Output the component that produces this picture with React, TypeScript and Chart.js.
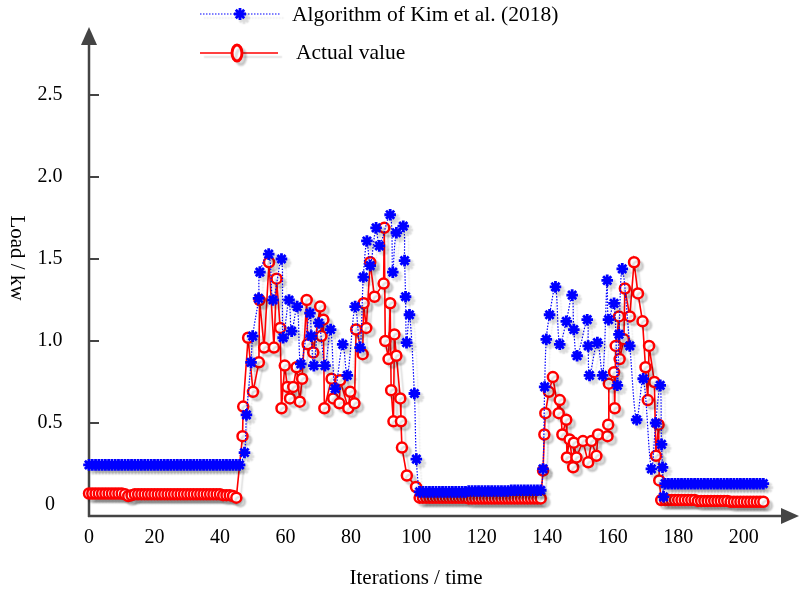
import React, { useEffect, useRef } from 'react';
import { Chart, registerables } from 'chart.js';

Chart.register(...registerables);

const FONT = '"Liberation Serif", "Times New Roman", serif';

const seriesNames = ['Algorithm of Kim et al. (2018)', 'Actual value'];
const xTitle = 'Iterations / time';
const yTitle = 'Load / kw';
const xTickValues = [0, 20, 40, 60, 80, 100, 120, 140, 160, 180, 200];
const yTickValues = [0, 0.5, 1.0, 1.5, 2.0, 2.5];
const yTickLabels = ['0', '0.5', '1.0', '1.5', '2.0', '2.5'];

// ---- Algorithm of Kim et al. (2018) ----
// iterations 0..46
const kimFlatA = [
  0.245, 0.245, 0.245, 0.245, 0.245, 0.245, 0.245, 0.245, 0.245, 0.245,
  0.245, 0.245, 0.245, 0.245, 0.245, 0.245, 0.245, 0.245, 0.245, 0.245,
  0.245, 0.245, 0.245, 0.245, 0.245, 0.245, 0.245, 0.245, 0.245, 0.245,
  0.245, 0.245, 0.245, 0.245, 0.245, 0.245, 0.245, 0.245, 0.245, 0.245,
  0.245, 0.245, 0.245, 0.245, 0.245, 0.245, 0.245,
];
const kimBurstAX = [
  47.5, 48.1, 49.5, 50.0, 51.8, 52.2, 54.9, 56.2, 58.8, 59.3,
  61.1, 61.9, 63.6, 64.7, 67.5, 67.9, 68.7, 70.2, 72.1, 73.8,
  75.2, 77.5, 78.9, 81.3, 82.8, 83.8, 84.9, 85.9, 87.7, 88.7,
  92.0, 92.8, 93.9, 96.0, 96.4, 96.7, 97.0, 97.9, 99.4, 100.0,
];
const kimBurstAY = [
  0.32, 0.55, 0.87, 1.03, 1.26, 1.42, 1.53, 1.25, 1.5, 1.02,
  1.25, 1.06, 1.21, 0.86, 1.17, 1.03, 0.85, 1.11, 0.85, 1.07,
  0.71, 0.98, 0.79, 1.21, 0.96, 1.39, 1.61, 1.46, 1.69, 1.58,
  1.77, 1.42, 1.66, 1.7, 1.49, 1.27, 0.99, 1.16, 0.68, 0.28,
];
// iterations 101..138
const kimFlatB = [
  0.08, 0.08, 0.08, 0.08, 0.08, 0.08, 0.08, 0.08, 0.08, 0.08,
  0.08, 0.08, 0.08, 0.08, 0.08, 0.085, 0.085, 0.085, 0.085, 0.085,
  0.085, 0.085, 0.085, 0.085, 0.085, 0.085, 0.085, 0.085, 0.09, 0.09,
  0.09, 0.09, 0.09, 0.09, 0.09, 0.09, 0.09, 0.09,
];
const kimBurstBX = [
  138.7, 139.2, 139.7, 140.7, 142.5, 143.8, 145.8, 147.6, 148.1, 149.1,
  152.2, 152.5, 152.9, 155.3, 156.9, 158.3, 158.7, 160.4, 161.4, 161.9,
  162.9, 165.2, 167.3, 169.3, 171.8, 173.1, 174.5, 174.9, 175.2, 175.5,
];
const kimBurstBY = [
  0.22, 0.72, 1.01, 1.16, 1.33, 0.98, 1.12, 1.28, 1.07, 0.91,
  1.13, 0.97, 0.79, 0.99, 0.79, 1.37, 1.13, 1.23, 0.73, 1.04,
  1.44, 0.97, 0.52, 0.77, 0.22, 0.5, 0.73, 0.37, 0.23, 0.05,
];
// iterations 176..206
const kimFlatC = [
  0.13, 0.13, 0.13, 0.13, 0.13, 0.13, 0.13, 0.13, 0.13, 0.13,
  0.13, 0.13, 0.13, 0.13, 0.13, 0.13, 0.13, 0.13, 0.13, 0.13,
  0.13, 0.13, 0.13, 0.13, 0.13, 0.13, 0.13, 0.13, 0.13, 0.13, 0.13,
];

// ---- Actual value ----
// iterations 0..45
const actFlatA = [
  0.07, 0.07, 0.07, 0.07, 0.07, 0.07, 0.07, 0.07, 0.07, 0.07,
  0.07, 0.065, 0.055, 0.06, 0.065, 0.065, 0.065, 0.065, 0.065, 0.065,
  0.065, 0.065, 0.065, 0.065, 0.065, 0.065, 0.065, 0.065, 0.065, 0.065,
  0.065, 0.065, 0.065, 0.065, 0.065, 0.065, 0.065, 0.065, 0.065, 0.065,
  0.065, 0.06, 0.06, 0.06, 0.055, 0.045,
];
const actBurstAX = [
  46.9, 47.1, 48.6, 50.1, 51.9, 52.1, 53.5, 55.0, 56.5, 57.3,
  58.4, 58.8, 59.8, 60.6, 61.4, 62.4, 63.4, 64.4, 65.1, 66.5,
  66.8, 68.5, 70.6, 71.0, 71.6, 71.9, 74.1, 74.6, 76.5, 76.7,
  79.2, 79.8, 81.1, 81.6, 83.6, 83.9, 84.7, 85.9, 87.2, 90.0,
  90.2, 90.5, 91.5, 92.0, 92.3, 93.0, 93.3, 93.9, 95.1, 95.3,
  95.6, 97.1, 99.9,
];
const actBurstAY = [
  0.42, 0.6, 1.02, 0.69, 0.87, 1.25, 0.96, 1.48, 0.96, 1.38,
  1.08, 0.59, 0.85, 0.72, 0.65, 0.72, 0.84, 0.63, 0.77, 1.25,
  0.98, 0.93, 1.21, 1.03, 1.13, 0.59, 0.77, 0.65, 0.62, 0.76,
  0.59, 0.69, 0.62, 1.07, 0.92, 1.23, 1.08, 1.48, 1.27, 1.35,
  1.69, 1.0, 0.89, 1.23, 0.7, 0.51, 1.04, 0.91, 0.65, 0.51,
  0.35, 0.18, 0.11,
];
// iterations 101..138
const actFlatB = [
  0.045, 0.045, 0.045, 0.045, 0.045, 0.045, 0.045, 0.045, 0.045, 0.045,
  0.045, 0.045, 0.045, 0.045, 0.045, 0.04, 0.04, 0.04, 0.04, 0.04,
  0.04, 0.04, 0.04, 0.04, 0.04, 0.04, 0.04, 0.04, 0.04, 0.04,
  0.04, 0.04, 0.04, 0.04, 0.04, 0.04, 0.04, 0.04,
];
const actBurstBX = [
  138.7, 139.1, 139.4, 140.5, 141.7, 143.5, 143.8, 144.6, 145.8, 146.0,
  146.8, 147.9, 148.1, 148.9, 150.9, 152.5, 153.5, 155.0, 155.5, 158.4,
  158.6, 158.8, 160.4, 160.6, 160.9, 161.9, 162.1, 163.4, 163.7, 165.2,
  166.5, 167.7, 169.1, 170.0, 170.7, 171.1, 172.7, 173.2, 174.0, 174.2,
  174.8,
];
const actBurstBY = [
  0.21, 0.43, 0.56, 0.69, 0.78, 0.56, 0.64, 0.43, 0.52, 0.29,
  0.4, 0.23, 0.38, 0.29, 0.39, 0.26, 0.39, 0.3, 0.43, 0.42,
  0.49, 0.74, 0.81, 0.59, 0.97, 1.15, 0.89, 1.01, 1.32, 1.15,
  1.48, 1.29, 1.12, 0.84, 0.64, 0.97, 0.75, 0.3, 0.49, 0.15,
  0.03,
];
// iterations 176..206
const actFlatC = [
  0.03, 0.03, 0.03, 0.03, 0.03, 0.03, 0.03, 0.03, 0.03, 0.03,
  0.025, 0.025, 0.025, 0.025, 0.025, 0.025, 0.025, 0.025, 0.025, 0.025,
  0.02, 0.02, 0.02, 0.02, 0.02, 0.02, 0.02, 0.02, 0.02, 0.02, 0.02,
];

const flat = (start: number, vals: number[]) => vals.map((v, k) => ({ x: start + k, y: v }));
const pairs = (xs: number[], ys: number[]) => xs.map((x, k) => ({ x, y: ys[k] }));

const kimPoints = [
  ...flat(0, kimFlatA),
  ...pairs(kimBurstAX, kimBurstAY),
  ...flat(101, kimFlatB),
  ...pairs(kimBurstBX, kimBurstBY),
  ...flat(176, kimFlatC),
];
const actPoints = [
  ...flat(0, actFlatA),
  ...pairs(actBurstAX, actBurstAY),
  ...flat(101, actFlatB),
  ...pairs(actBurstBX, actBurstBY),
  ...flat(176, actFlatC),
];

const BLUE = '#0000ff';
const RED = '#ff0000';
const AXIS = '#444444';

function setShadow(ctx: CanvasRenderingContext2D) {
  ctx.shadowColor = 'rgba(0,0,0,0.14)';
  ctx.shadowOffsetX = 4;
  ctx.shadowOffsetY = 4;
  ctx.shadowBlur = 1.5;
}

function drawStar(ctx: CanvasRenderingContext2D, x: number, y: number, r: number) {
  ctx.beginPath();
  for (let a = 0; a < 4; a++) {
    const ang = (a * Math.PI) / 4;
    ctx.moveTo(x - r * Math.cos(ang), y - r * Math.sin(ang));
    ctx.lineTo(x + r * Math.cos(ang), y + r * Math.sin(ang));
  }
  ctx.stroke();
}

const decorPlugin = {
  id: 'decor',
  beforeDatasetsDraw(chart: any) {
    const ctx = chart.ctx as CanvasRenderingContext2D;
    const { left, right, top, bottom } = chart.chartArea;
    const ys = chart.scales.y;
    ctx.save();
    ctx.strokeStyle = AXIS;
    ctx.fillStyle = AXIS;
    ctx.lineWidth = 2.5;
    ctx.beginPath();
    ctx.moveTo(left, bottom + 1);
    ctx.lineTo(left, top);
    ctx.moveTo(left - 1, bottom);
    ctx.lineTo(right, bottom);
    ctx.stroke();
    // arrows
    ctx.beginPath();
    ctx.moveTo(left, top - 17);
    ctx.lineTo(left - 8, top + 1);
    ctx.lineTo(left + 8, top + 1);
    ctx.closePath();
    ctx.fill();
    ctx.beginPath();
    ctx.moveTo(right + 17, bottom);
    ctx.lineTo(right - 1, bottom - 8);
    ctx.lineTo(right - 1, bottom + 8);
    ctx.closePath();
    ctx.fill();
    // y tick marks (inside)
    ctx.lineWidth = 2;
    yTickValues.forEach((v) => {
      if (v === 0) return;
      const py = ys.getPixelForValue(v);
      ctx.beginPath();
      ctx.moveTo(left, py);
      ctx.lineTo(left + 10, py);
      ctx.stroke();
    });
    ctx.restore();
  },
  beforeDatasetDraw(chart: any) {
    const ctx = chart.ctx as CanvasRenderingContext2D;
    ctx.save();
    setShadow(ctx);
  },
  afterDatasetDraw(chart: any) {
    chart.ctx.restore();
  },
  afterDraw(chart: any) {
    const ctx = chart.ctx as CanvasRenderingContext2D;
    const xs = chart.scales.x;
    const ys = chart.scales.y;
    ctx.save();
    ctx.fillStyle = '#000';
    ctx.font = `20px ${FONT}`;
    ctx.textAlign = 'center';
    ctx.textBaseline = 'middle';
    yTickValues.forEach((v, k) => {
      ctx.fillText(yTickLabels[k], 50, ys.getPixelForValue(v));
    });
    xTickValues.forEach((v) => {
      ctx.fillText(String(v), xs.getPixelForValue(v), 538);
    });
    ctx.font = `21px ${FONT}`;
    ctx.fillText(xTitle, 416, 578);
    ctx.save();
    ctx.translate(17, 258);
    ctx.rotate(Math.PI / 2);
    ctx.fillText(yTitle, 0, 0);
    ctx.restore();

    // legend
    ctx.font = `21.5px ${FONT}`;
    ctx.textAlign = 'left';
    ctx.fillText(seriesNames[0], 292, 15);
    ctx.fillText(seriesNames[1], 296, 53);

    ctx.save();
    setShadow(ctx);
    ctx.strokeStyle = BLUE;
    ctx.lineWidth = 1.2;
    ctx.setLineDash([1.5, 1.5]);
    ctx.beginPath();
    ctx.moveTo(200, 14);
    ctx.lineTo(280, 14);
    ctx.stroke();
    ctx.setLineDash([]);
    ctx.lineWidth = 2.8;
    drawStar(ctx, 240, 14, 6);

    ctx.strokeStyle = RED;
    ctx.lineWidth = 1.5;
    ctx.beginPath();
    ctx.moveTo(200, 53);
    ctx.lineTo(278, 53);
    ctx.stroke();
    ctx.lineWidth = 3;
    ctx.fillStyle = '#fff';
    ctx.beginPath();
    ctx.ellipse(237, 53, 5, 8, 0, 0, Math.PI * 2);
    ctx.fill();
    ctx.stroke();
    ctx.restore();

    ctx.restore();
  },
};

export default function App() {
  const ref = useRef<HTMLCanvasElement | null>(null);
  useEffect(() => {
    if (!ref.current) return;
    const chart = new Chart(ref.current, {
      type: 'line',
      data: {
        datasets: [
          {
            label: seriesNames[0],
            data: kimPoints,
            borderColor: BLUE,
            borderWidth: 1.2,
            borderDash: [1.5, 1.5],
            tension: 0.35,
            pointStyle: 'star',
            pointRadius: 5.8,
            pointBorderWidth: 2.8,
            pointBorderColor: BLUE,
            pointBackgroundColor: BLUE,
            clip: false,
          },
          {
            label: seriesNames[1],
            data: actPoints,
            borderColor: RED,
            borderWidth: 1.6,
            tension: 0,
            pointStyle: 'circle',
            pointRadius: 5,
            pointBorderWidth: 2.5,
            pointBorderColor: RED,
            pointBackgroundColor: '#ffffff',
            clip: false,
          },
        ],
      },
      options: {
        responsive: false,
        animation: false,
        events: [],
        layout: { padding: { left: 89, right: 18, top: 44, bottom: 77 } },
        scales: {
          x: { type: 'linear', min: 0, max: 211.7, display: false },
          y: { type: 'linear', min: -0.067, max: 2.811, display: false },
        },
        plugins: {
          legend: { display: false },
          tooltip: { enabled: false },
        },
      },
      plugins: [decorPlugin],
    } as any);
    return () => chart.destroy();
  }, []);
  return (
    <div style={{ position: 'fixed', left: 0, top: 0, width: 800, height: 593, background: '#fff' }}>
      <canvas ref={ref} width={800} height={593} style={{ display: 'block' }} />
    </div>
  );
}
